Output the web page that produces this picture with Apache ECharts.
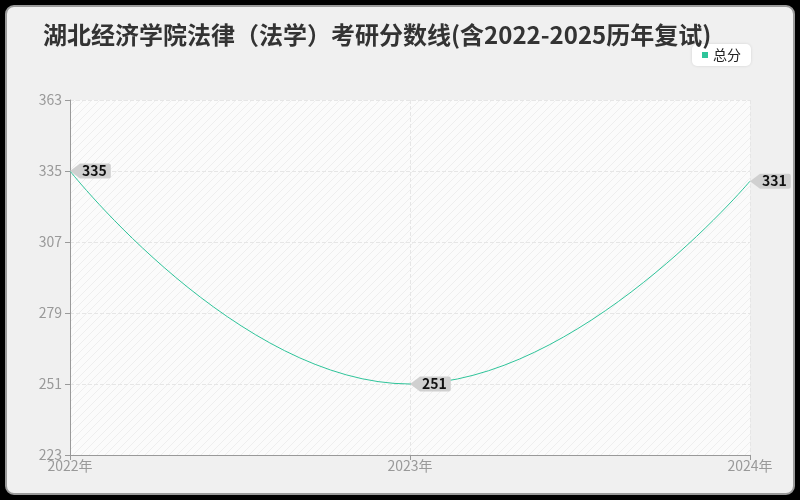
<!DOCTYPE html>
<html lang="zh">
<head>
    <meta charset="UTF-8">
    <title>湖北经济学院法律（法学）考研分数线</title>
    <script src="https://cdn.jsdelivr.net/npm/echarts@6/dist/echarts.min.js"></script>
    <style>
        html, body { margin: 0; padding: 0; background: #000; }
        #frame {
            position: absolute; left: 5px; top: 5px;
            width: 786px; height: 486px;
            border: 2px solid #9a9a9a; border-radius: 9px;
            background: #f0f0f0;
        }
        #main { position: absolute; left: 0; top: 0; width: 800px; height: 500px; }
    </style>
</head>
<body>
    <div id="frame"></div>
    <div id="main"></div>
    <script>
        // 数据
        const years = ['2022年', '2023年', '2024年'];
        const totalScores = [335, 251, 331];
        const yTicks = [223, 251, 279, 307, 335, 363];

        // 网格背景的斜线纹理
        function hatch() {
            const c = document.createElement('canvas');
            c.width = 8; c.height = 8;
            const ctx = c.getContext('2d');
            ctx.fillStyle = '#fbfbfb';
            ctx.fillRect(0, 0, 8, 8);
            ctx.strokeStyle = '#eeeeee';
            ctx.lineWidth = 1;
            ctx.beginPath();
            ctx.moveTo(0, 8); ctx.lineTo(8, 0);
            ctx.moveTo(-1, 1); ctx.lineTo(1, -1);
            ctx.moveTo(7, 9); ctx.lineTo(9, 7);
            ctx.stroke();
            return c;
        }

        const lineColor = '#2fc49a';
        const chart = echarts.init(document.getElementById('main'));
        chart.setOption({
            textStyle: { fontFamily: '"Noto Sans CJK SC", "Noto Sans", sans-serif' },
            title: {
                text: '湖北经济学院法律（法学）考研分数线(含2022-2025历年复试)',
                left: 38, top: 18,
                textStyle: { fontSize: 24, fontWeight: 'bold', color: '#333' }
            },
            legend: {
                data: [{ name: '总分', itemStyle: { color: lineColor } }],
                right: 49, top: 44,
                backgroundColor: '#fff',
                borderRadius: 5,
                padding: [4, 10, 4, 10],
                itemWidth: 6, itemHeight: 6,
                itemGap: 4,
                icon: 'rect',
                shadowColor: 'rgba(0,0,0,0.12)', shadowBlur: 3,
                textStyle: { fontSize: 14, color: '#222' }
            },
            grid: {
                left: 70, right: 50, top: 100, bottom: 45,
                show: true,
                borderWidth: 0,
                backgroundColor: { image: hatch(), repeat: 'repeat' }
            },
            xAxis: {
                type: 'category',
                data: years,
                boundaryGap: false,
                axisLine: { lineStyle: { color: '#999' } },
                axisTick: { show: true, lineStyle: { color: '#999' } },
                axisLabel: { color: '#999', fontSize: 14, margin: 4 },
                splitLine: { show: true, lineStyle: { type: 'dashed', color: '#e6e6e6' } }
            },
            yAxis: {
                type: 'value',
                min: yTicks[0],
                max: yTicks[yTicks.length - 1],
                interval: yTicks[1] - yTicks[0],
                axisLine: { show: true, lineStyle: { color: '#999' } },
                axisTick: { show: true, lineStyle: { color: '#999' } },
                axisLabel: { color: '#999', fontSize: 14, margin: 8 },
                splitLine: { show: true, lineStyle: { type: 'dashed', color: '#e6e6e6' } }
            },
            series: [{
                name: '总分',
                type: 'line',
                data: totalScores,
                smooth: true,
                lineStyle: { width: 1, color: lineColor },
                symbol: 'path://M0,6 L7,0 L7,12 Z',
                symbolSize: [10, 15],
                symbolOffset: [5, 0],
                itemStyle: { color: '#d0d0d0' },
                label: {
                    show: true,
                    position: 'right',
                    distance: 0,
                    color: '#111',
                    fontSize: 14,
                    fontWeight: 'bold',
                    backgroundColor: '#d0d0d0',
                    borderRadius: [0, 2, 2, 0],
                    padding: [1, 4, 0, 2]
                }
            }]
        });
    </script>
</body>
</html>
